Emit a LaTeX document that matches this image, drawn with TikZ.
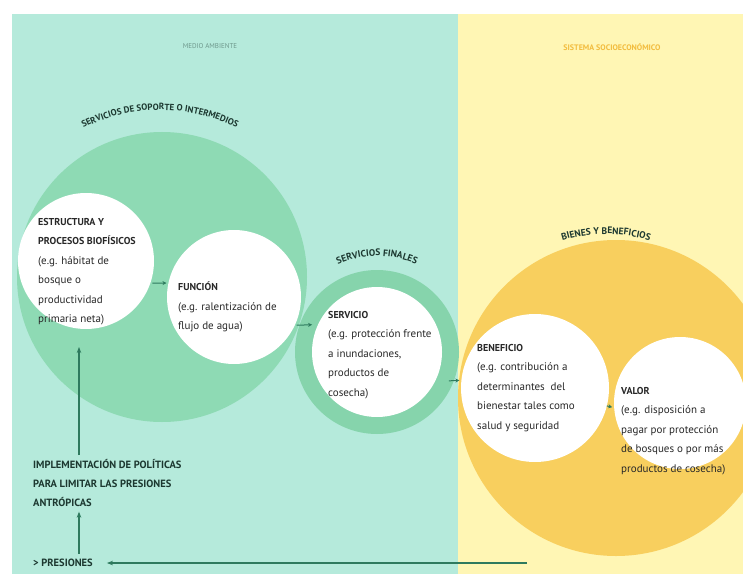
\documentclass[tikz,border=0pt]{standalone}
\usepackage{fontspec}
\setmainfont{PT Sans}
\usetikzlibrary{decorations.text,arrows.meta}
\definecolor{fondoverde}{RGB}{181,234,219}
\definecolor{fondoamarillo}{RGB}{255,246,180}
\definecolor{circverde}{RGB}{142,218,180}
\definecolor{anillo}{RGB}{134,212,172}
\definecolor{circamarillo}{RGB}{248,207,94}
\definecolor{flecha}{RGB}{46,122,94}
\definecolor{textos}{RGB}{40,40,40}
\definecolor{arcotxt}{RGB}{28,56,48}
\definecolor{titverde}{RGB}{110,152,140}
\definecolor{titamarillo}{RGB}{242,188,62}
\newcommand{\cab}[1]{{\fontsize{10}{19.5}\selectfont\bfseries #1}}

\begin{document}
\begin{tikzpicture}[x=1pt,y=1pt,
  circulo/.style={circle,fill=white,inner sep=0pt,outer sep=0pt},
  texto/.style={anchor=north west,align=left,inner sep=0pt,text=textos,font=\fontsize{11}{19.5}\selectfont},
  flechita/.style={-{Stealth[length=4pt,width=4pt]},line width=1pt,draw=flecha,shorten <=2pt,shorten >=2pt},
  flechagr/.style={-{Stealth[length=6pt,width=4.5pt]},line width=1.4pt,draw=flecha}]
\useasboundingbox (0,0) rectangle (743,574);
%Фон
\fill[white] (0,0) rectangle (743,574);
\fill[fondoverde] (12,0) rectangle (458,560);
\fill[fondoamarillo] (458,0) rectangle (743,560);
%Большие круги
\begin{scope}
\clip (12,0) rectangle (743,560);
\fill[circverde] (162,297) circle (145);
\fill[anillo] (377,222) circle (82);
\fill[circamarillo] (616,176) circle (158);
\end{scope}
%Заголовки
\node[text=titverde,font=\fontsize{7}{8}\selectfont] (medio) at (210,528) {MEDIO AMBIENTE};
\node[text=titamarillo,font=\fontsize{8}{9}\selectfont\bfseries] (socio) at (612,527) {SISTEMA SOCIOECONÓMICO};
%Надписи по дуге
\coordinate (cSop) at (160,292);
\coordinate (cFin) at (377,222);
\coordinate (cBie) at (606,190);
\path[decorate,decoration={text along path,text align=center,
  text={|\fontsize{9}{10}\selectfont\bfseries\color{arcotxt}|SERVICIOS DE SOPORTE O INTERMEDIOS}}]
  ([shift={(128:172)}]cSop) arc[start angle=128,end angle=52,radius=172];
\path[decorate,decoration={text along path,text align=center,
  text={|\fontsize{9.5}{10}\selectfont\bfseries\color{arcotxt}|SERVICIOS FINALES}}]
  ([shift={(130:96)}]cFin) arc[start angle=130,end angle=50,radius=96];
\path[decorate,decoration={text along path,text align=center,
  text={|\fontsize{9.5}{10}\selectfont\bfseries\color{arcotxt}|BIENES  Y BENEFICIOS}}]
  ([shift={(122:150)}]cBie) arc[start angle=122,end angle=58,radius=150];
%Белые круги
\node[circulo,minimum size=136] (est) at (86,313) {};
\node[circulo,minimum size=134] (fun) at (234,277) {};
\node[circulo,minimum size=130] (ser) at (377,222) {};
\node[circulo,minimum size=148] (ben) at (535,186) {};
\node[circulo,minimum size=132] (val) at (680,171) {};
%Тексты
\node[texto] (estT) at (38,356) {\cab{ESTRUCTURA Y}\\\cab{PROCESOS BIOFÍSICOS}\\(e.g. hábitat de\\bosque o\\productividad\\primaria neta)};
\node[texto] (funT) at (178,292) {\cab{FUNCIÓN}\\(e.g. ralentización de\\flujo de agua)};
\node[texto] (serT) at (328,263) {\cab{SERVICIO}\\(e.g. protección frente\\a inundaciones,\\productos de\\cosecha)};
\node[texto] (benT) at (477,230) {\cab{BENEFICIO}\\(e.g. contribución a\\determinantes\ \ del\\bienestar tales como\\salud y seguridad};
\node[texto] (valT) at (621,187) {\cab{VALOR}\\(e.g. disposición a\\pagar por protección\\de bosques o por más\\productos de cosecha)};
\node[texto,text=arcotxt,font=\fontsize{10.5}{19}\selectfont\bfseries] (implT) at (33,115) {IMPLEMENTACIÓN DE POLÍTICAS\\PARA LIMITAR LAS PRESIONES\\ANTRÓPICAS};
\node[anchor=west,inner sep=0pt,text=arcotxt,font=\fontsize{10.5}{12}\selectfont\bfseries] (presT) at (33,11) {> PRESIONES};
%Стрелки
\draw[flechita] (est.-19) -- (fun.168);
\draw[flechita,shorten >=6pt] (fun.-25) -- (ser.155);
\draw[flechita,shorten <=14pt] (ser.-27) -- (ben.174);
\draw[flechita,shorten <=0pt] (ben.-14) -- (val.184);
\draw[flechagr] ([xshift=46pt,yshift=4pt]implT.north west) -- ([xshift=-7pt,yshift=-18pt]est.south);
\draw[flechagr] ([xshift=46pt,yshift=5pt]presT.north west) -- ([xshift=46pt,yshift=-5pt]implT.south west);
\coordinate (inicioP) at (527,11);
\draw[flechagr] (inicioP) -- ([xshift=14pt]presT.east);
\end{tikzpicture}
\end{document}
